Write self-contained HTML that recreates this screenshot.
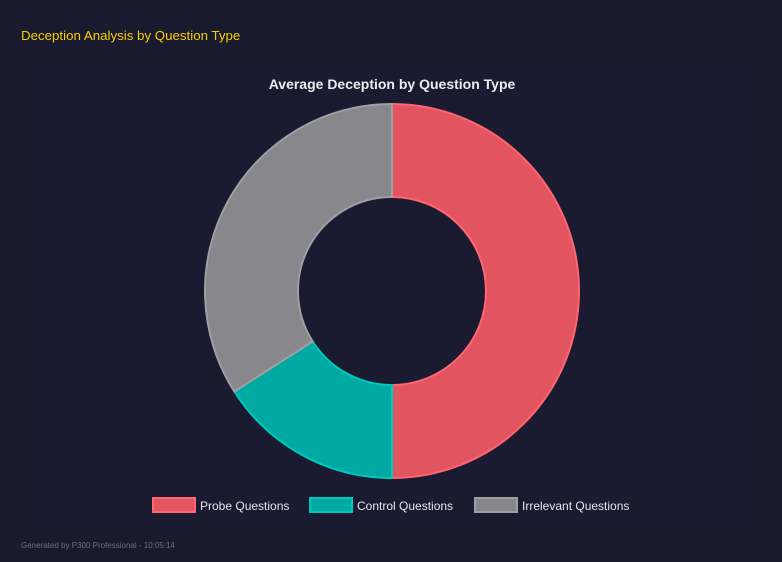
<!DOCTYPE html>
<html><head><style>
body{margin:0;width:782px;height:562px;background:#191a2e;font-family:"Liberation Sans",sans-serif;overflow:hidden;position:relative}
.t{position:absolute;left:21px;top:28px;color:#f5d000;font-size:13.3px}
.f{position:absolute;left:21px;top:541px;color:#6f7080;font-size:8px}
.p{position:absolute;left:30px;top:64px;width:722px;height:466px;background:#1a1b30}
</style></head><body>
<div class="p"></div>
<div class="t">Deception Analysis by Question Type</div>
<svg width="782" height="562" style="position:absolute;left:0;top:0">
<text x="392" y="89" text-anchor="middle" fill="#ececf0" font-size="14" font-weight="bold" font-family="Liberation Sans">Average Deception by Question Type</text>
<path d="M392 104 A187 187 0 0 1 392 478 L392 385 A94 94 0 0 0 392 197 Z" fill="#e25560" stroke="#ff6572" stroke-width="2"/>
<path d="M392 478 A187 187 0 0 1 234.3 391.5 L312.7 341.5 A94 94 0 0 0 392 385 Z" fill="#00a9a2" stroke="#00c8bf" stroke-width="2"/>
<path d="M234.3 391.5 A187 187 0 0 1 392 104 L392 197 A94 94 0 0 0 312.7 341.5 Z" fill="#88888c" stroke="#a0a0a4" stroke-width="2"/>
<g font-size="12" fill="#e6e6ea" font-family="Liberation Sans">
<rect x="153" y="498" width="42" height="14" fill="#e25560" stroke="#ff6572" stroke-width="2"/>
<text x="200" y="510">Probe Questions</text>
<rect x="310" y="498" width="42" height="14" fill="#00a9a2" stroke="#00c8bf" stroke-width="2"/>
<text x="357" y="510">Control Questions</text>
<rect x="475" y="498" width="42" height="14" fill="#88888c" stroke="#a0a0a4" stroke-width="2"/>
<text x="522" y="510">Irrelevant Questions</text>
</g>
</svg>
<div class="f">Generated by P300 Professional - 10:05:14</div>
</body></html>
